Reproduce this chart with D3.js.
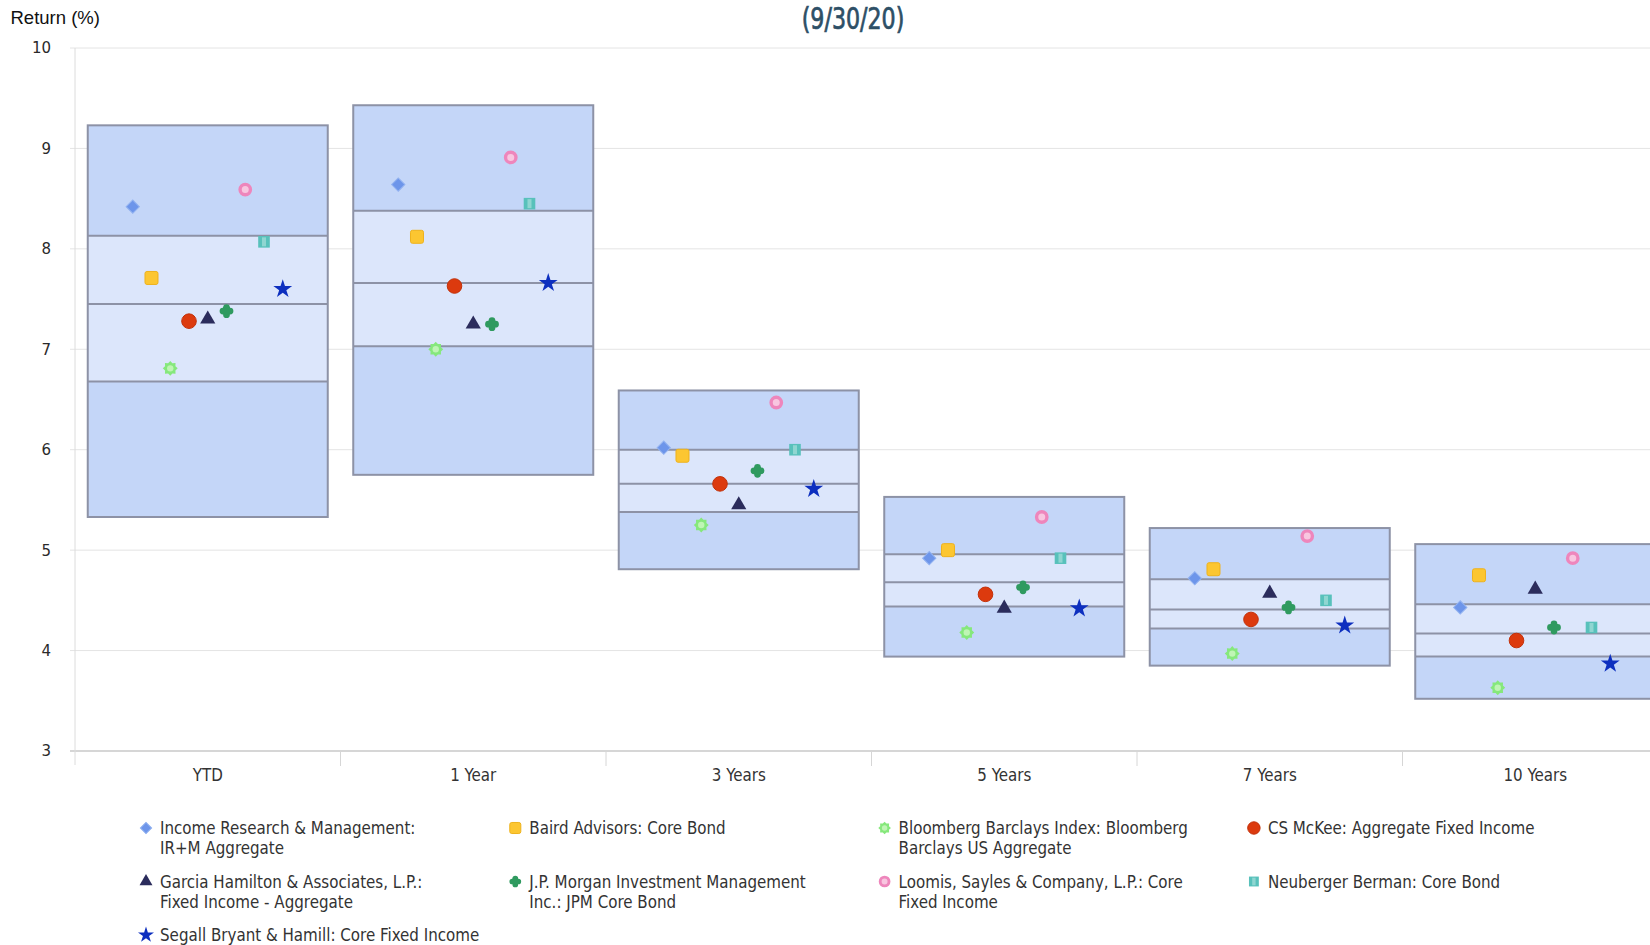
<!DOCTYPE html>
<html lang="en">
<head>
  <meta charset="UTF-8" />
  <title>Return (%) (9/30/20)</title>
  <script src="https://d3js.org/d3.v7.min.js"></script>
  <style>
    body {
      background-color: white;
      margin: 0;
      overflow: hidden;
    }

    svg {
      display: block;
    }

    .tick-label {
      font-family: "DejaVu Sans", Verdana, sans-serif;
      font-size: 15px;
      fill: #2a2a2a;
    }

    .cat-label, .legend text {
      font-family: "DejaVu Sans Condensed", "DejaVu Sans", sans-serif;
      font-size: 16.8px;
      fill: #333;
    }
  </style>
</head>
<body>
  <svg id="chart"></svg>

  <script>
    // periods on the x axis
    const periods = ["YTD", "1 Year", "3 Years", "5 Years", "7 Years", "10 Years"];

    // universe percentile boxes (5th / 25th / median / 75th / 95th)
    const p95 = [9.23, 9.43, 6.59, 5.53, 5.22, 5.06];
    const p75 = [8.13, 8.38, 6.00, 4.96, 4.71, 4.46];
    const p50 = [7.45, 7.66, 5.66, 4.68, 4.41, 4.17];
    const p25 = [6.68, 7.03, 5.38, 4.44, 4.22, 3.94];
    const p05 = [5.33, 5.75, 4.81, 3.94, 3.85, 3.52];

    // manager returns, one array per series
    const irm       = [8.42, 8.64, 6.02, 4.92, 4.72, 4.43];
    const baird     = [7.71, 8.12, 5.94, 5.00, 4.81, 4.75];
    const bloomberg = [6.81, 7.00, 5.25, 4.18, 3.97, 3.63];
    const csMckee   = [7.28, 7.63, 5.66, 4.56, 4.31, 4.10];
    const garcia    = [7.30, 7.25, 5.45, 4.42, 4.57, 4.61];
    const jpm       = [7.38, 7.25, 5.79, 4.63, 4.43, 4.23];
    const loomis    = [8.59, 8.91, 6.47, 5.33, 5.14, 4.92];
    const neuberger = [8.07, 8.45, 6.00, 4.92, 4.50, 4.23];
    const segall    = [7.60, 7.66, 5.61, 4.42, 4.25, 3.87];

    const series = [
      { key: "irm",       values: irm,       label: ["Income Research & Management:", "IR+M Aggregate"] },
      { key: "baird",     values: baird,     label: ["Baird Advisors: Core Bond"] },
      { key: "bloomberg", values: bloomberg, label: ["Bloomberg Barclays Index: Bloomberg", "Barclays US Aggregate"] },
      { key: "csMckee",   values: csMckee,   label: ["CS McKee: Aggregate Fixed Income"] },
      { key: "garcia",    values: garcia,    label: ["Garcia Hamilton & Associates, L.P.:", "Fixed Income - Aggregate"] },
      { key: "jpm",       values: jpm,       label: ["J.P. Morgan Investment Management", "Inc.: JPM Core Bond"] },
      { key: "loomis",    values: loomis,    label: ["Loomis, Sayles & Company, L.P.: Core", "Fixed Income"] },
      { key: "neuberger", values: neuberger, label: ["Neuberger Berman: Core Bond"] },
      { key: "segall",    values: segall,    label: ["Segall Bryant & Hamill: Core Fixed Income"] }
    ];

    const yTicks = [3, 4, 5, 6, 7, 8, 9, 10];

    const width = 1650;
    const height = 945;
    const plotLeft = 75, plotTop = 48, plotBottom = 751;
    const step = 265.5;

    const svg = d3.select("#chart")
      .attr("width", width)
      .attr("height", height);

    const y = d3.scaleLinear().domain([3, 10]).range([plotBottom, plotTop]);
    const x = d3.scaleBand()
      .domain(periods)
      .range([plotLeft, plotLeft + step * periods.length])
      .paddingInner(0.096)
      .paddingOuter(0.048);
    const xs = d3.scalePoint()
      .domain(series.map(d => d.key))
      .range([0, x.bandwidth()])
      .padding(2.4);

    // header texts
    svg.append("text")
      .attr("x", 10.5).attr("y", 24)
      .style("font-family", "'Liberation Sans', Arial, sans-serif")
      .style("font-size", "18.5px")
      .style("fill", "#111")
      .text("Return (%)");

    svg.append("text")
      .attr("transform", "translate(853,29) scale(0.82,1)")
      .attr("text-anchor", "middle")
      .style("font-family", "'DejaVu Sans Condensed', sans-serif")
      .style("font-size", "30px")
      .style("fill", "#2d4f66")
      .style("stroke", "#2d4f66")
      .style("stroke-width", 0.7)
      .text("(9/30/20)");

    // grid
    const grid = svg.append("g").attr("class", "grid");
    grid.selectAll("line.h")
      .data(yTicks)
      .enter().append("line")
      .attr("x1", plotLeft - 5).attr("x2", width)
      .attr("y1", d => y(d)).attr("y2", d => y(d))
      .style("stroke", d => d === 3 ? "#d6d6d6" : "#e4e4e4")
      .style("stroke-width", d => d === 3 ? 2 : 1);

    grid.append("line")
      .attr("x1", plotLeft).attr("x2", plotLeft)
      .attr("y1", plotTop).attr("y2", plotBottom + 14)
      .style("stroke", "#dcdcdc");

    grid.selectAll("line.v")
      .data(d3.range(1, periods.length + 1))
      .enter().append("line")
      .attr("x1", d => plotLeft + d * step).attr("x2", d => plotLeft + d * step)
      .attr("y1", plotBottom).attr("y2", plotBottom + 15)
      .style("stroke", "#d6d6d6");

    svg.append("g")
      .selectAll("text")
      .data(yTicks)
      .enter().append("text")
      .attr("class", "tick-label")
      .attr("x", 51)
      .attr("y", d => y(d))
      .attr("dy", "0.36em")
      .attr("text-anchor", "end")
      .text(d => d);

    svg.append("g")
      .selectAll("text")
      .data(periods)
      .enter().append("text")
      .attr("class", "cat-label")
      .attr("x", d => x(d) + x.bandwidth() / 2)
      .attr("y", 781)
      .attr("text-anchor", "middle")
      .text(d => d);

    // percentile boxes
    const boxes = svg.append("g")
      .selectAll("g")
      .data(periods.map((p, i) => ({ p, hi: p95[i], q3: p75[i], med: p50[i], q1: p25[i], lo: p05[i] })))
      .enter().append("g");

    boxes.append("rect")
      .attr("x", d => x(d.p)).attr("width", x.bandwidth())
      .attr("y", d => y(d.hi)).attr("height", d => y(d.lo) - y(d.hi))
      .attr("fill", "#c4d6f8");

    boxes.append("rect")
      .attr("x", d => x(d.p)).attr("width", x.bandwidth())
      .attr("y", d => y(d.q3)).attr("height", d => y(d.q1) - y(d.q3))
      .attr("fill", "#dce6fb");

    ["q3", "med", "q1"].forEach(k => {
      boxes.append("line")
        .attr("x1", d => x(d.p)).attr("x2", d => x(d.p) + x.bandwidth())
        .attr("y1", d => y(d[k])).attr("y2", d => y(d[k]))
        .attr("stroke", "#8d92a6").attr("stroke-width", 2);
    });

    boxes.append("rect")
      .attr("x", d => x(d.p)).attr("width", x.bandwidth())
      .attr("y", d => y(d.hi)).attr("height", d => y(d.lo) - y(d.hi))
      .attr("fill", "none")
      .attr("stroke", "#8d92a6").attr("stroke-width", 2);

    // marker shapes
    const burst = {
      draw(ctx, size) {
        const r = Math.sqrt(size / Math.PI);
        for (let i = 0; i < 16; i++) {
          const a = i * Math.PI / 8 - Math.PI / 2;
          const rr = i % 2 ? r * 0.75 : r;
          if (i === 0) ctx.moveTo(rr * Math.cos(a), rr * Math.sin(a));
          else ctx.lineTo(rr * Math.cos(a), rr * Math.sin(a));
        }
        ctx.closePath();
      }
    };
    const clover = {
      draw(ctx, size) {
        const r = Math.sqrt(size) / 4.2;
        [[0, -1], [1, 0], [0, 1], [-1, 0]].forEach(([dx, dy]) => {
          ctx.moveTo(dx * r * 1.05 + r, dy * r * 1.05);
          ctx.arc(dx * r * 1.05, dy * r * 1.05, r, 0, 2 * Math.PI);
        });
        ctx.rect(-r, -r, 2 * r, 2 * r);
      }
    };

    function drawMarker(g, key, k) {
      const sym = (type, size) => d3.symbol().type(type).size(size * k * k)();
      if (key === "irm") {
        g.append("path").attr("d", sym(d3.symbolSquare, 88))
          .attr("transform", "rotate(45)")
          .attr("fill", "#6d95ea").attr("stroke", "#92b2f0").attr("stroke-width", 1);
      } else if (key === "baird") {
        g.append("rect").attr("x", -6.5 * k).attr("y", -6.5 * k)
          .attr("width", 13 * k).attr("height", 13 * k).attr("rx", 2)
          .attr("fill", "#fcc631").attr("stroke", "#eeb21d").attr("stroke-width", 1);
      } else if (key === "bloomberg") {
        g.append("path").attr("d", sym(burst, 175)).attr("fill", "#86e87c");
        g.append("circle").attr("r", 3.2 * k).attr("fill", "#bff5b4");
      } else if (key === "csMckee") {
        g.append("circle").attr("r", 7.3 * k)
          .attr("fill", "#dc3a0e").attr("stroke", "#c2310a").attr("stroke-width", 1);
      } else if (key === "garcia") {
        g.append("path").attr("d", sym(d3.symbolTriangle, 100)).attr("fill", "#2b2c5c");
      } else if (key === "jpm") {
        g.append("path").attr("d", sym(clover, 200)).attr("fill", "#2f9a5f");
      } else if (key === "loomis") {
        g.append("circle").attr("r", 5.2 * k)
          .attr("fill", "#f8c6e0").attr("stroke", "#ee86bc").attr("stroke-width", 3.4 * k);
      } else if (key === "neuberger") {
        g.append("rect").attr("x", -5.8 * k).attr("y", -5.8 * k)
          .attr("width", 11.6 * k).attr("height", 11.6 * k).attr("fill", "#58c1bb");
        g.append("rect").attr("x", -2 * k).attr("y", -4.5 * k)
          .attr("width", 4 * k).attr("height", 9 * k).attr("fill", "#8fd6d1");
      } else if (key === "segall") {
        g.append("path").attr("d", sym(d3.symbolStar, 110)).attr("fill", "#0d2fbf");
      }
    }

    // points
    series.forEach(s => {
      s.values.forEach((v, i) => {
        const g = svg.append("g")
          .attr("transform", `translate(${x(periods[i]) + xs(s.key)},${y(v)})`);
        drawMarker(g, s.key, 1);
      });
    });

    // legend
    const legend = svg.append("g").attr("class", "legend");
    series.forEach((s, i) => {
      const col = i % 4, row = Math.floor(i / 4);
      const gx = 146 + col * 369.3;
      const gy = 828 + row * 53.5;
      const item = legend.append("g").attr("transform", `translate(${gx},${gy})`);
      drawMarker(item.append("g"), s.key, 0.85);
      item.selectAll("text")
        .data(s.label)
        .enter().append("text")
        .attr("x", 14)
        .attr("y", (d, j) => 6 + j * 20)
        .text(d => d);
    });
  </script>
</body>
</html>
